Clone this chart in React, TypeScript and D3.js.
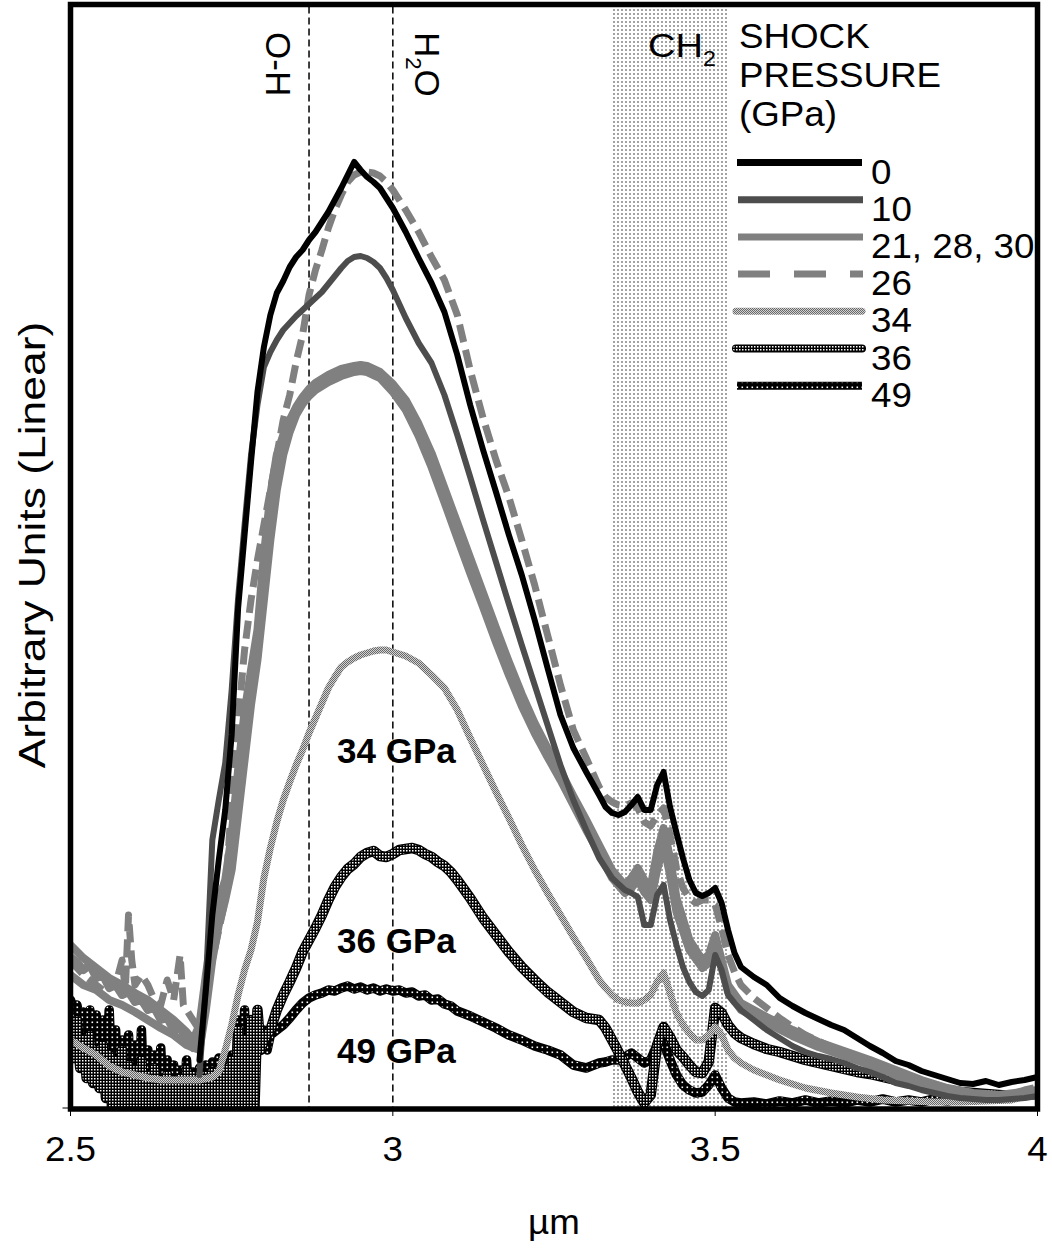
import React, { useEffect, useRef } from "react";
import * as d3 from "d3";

type Pt = [number, number];

// x axis, wavelength in µm
const xDomain = [2.5, 4];
const xTicks = [2.5, 3, 3.5, 4];
const xTickLabels = ["2.5", "3", "3.5", "4"];

// marker lines and CH2 band (µm)
const markerOH = 2.87;
const markerH2O = 3.0;
const ch2Band = [3.34, 3.52];

// intensity, arbitrary units
const yMax = 1103;

const legendLabels = ["0", "10", "21, 28, 30", "26", "34", "36", "49"];
const curveLabels = ["34 GPa", "36 GPa", "49 GPa"];

const gpa0: Pt[] = [
  [2.70, 48], [2.71, 118], [2.72, 193], [2.73, 248], [2.74, 298], [2.75, 373], [2.76, 500], [2.77, 573],
  [2.78, 646], [2.79, 716], [2.80, 761], [2.81, 793], [2.82, 815], [2.83, 827], [2.84, 841], [2.85, 851],
  [2.86, 858], [2.87, 868], [2.88, 876], [2.89, 886], [2.90, 896], [2.91, 908], [2.92, 920], [2.93, 933],
  [2.94, 946], [2.95, 938], [2.96, 931], [2.97, 926], [2.98, 920], [2.99, 910], [3.00, 900], [3.02, 876],
  [3.04, 850], [3.06, 825], [3.08, 796], [3.10, 753], [3.12, 703], [3.14, 658], [3.16, 616], [3.18, 573],
  [3.20, 533], [3.22, 488], [3.24, 440], [3.26, 393], [3.28, 360], [3.30, 336], [3.32, 313], [3.33, 301],
  [3.34, 295], [3.35, 293], [3.36, 296], [3.37, 303], [3.38, 311], [3.39, 298], [3.40, 298], [3.41, 323],
  [3.42, 336], [3.43, 301], [3.44, 275], [3.45, 250], [3.46, 228], [3.47, 215], [3.48, 212], [3.49, 215],
  [3.50, 220], [3.51, 205], [3.52, 178], [3.53, 155], [3.54, 141], [3.56, 131], [3.58, 123], [3.60, 110],
  [3.62, 102], [3.64, 95], [3.66, 89], [3.68, 83], [3.70, 78], [3.72, 70], [3.74, 62], [3.76, 55],
  [3.78, 47], [3.80, 43], [3.82, 37], [3.84, 33], [3.86, 29], [3.88, 25], [3.90, 24], [3.92, 27],
  [3.94, 23], [3.96, 26], [3.98, 28], [4.00, 31],
];

const gpa10: Pt[] = [
  [2.70, 33], [2.71, 123], [2.72, 268], [2.73, 308], [2.74, 345], [2.75, 418], [2.76, 510], [2.77, 583],
  [2.78, 653], [2.79, 703], [2.80, 741], [2.81, 756], [2.82, 768], [2.83, 778], [2.84, 785], [2.85, 792],
  [2.86, 798], [2.87, 804], [2.88, 810], [2.89, 816], [2.90, 824], [2.91, 832], [2.92, 840], [2.93, 847],
  [2.94, 851], [2.95, 852], [2.96, 850], [2.97, 846], [2.98, 840], [2.99, 830], [3.00, 818], [3.02, 790],
  [3.04, 765], [3.06, 745], [3.08, 713], [3.10, 673], [3.12, 631], [3.14, 588], [3.16, 546], [3.18, 504],
  [3.20, 463], [3.22, 423], [3.24, 383], [3.26, 343], [3.28, 308], [3.30, 278], [3.32, 250], [3.33, 240],
  [3.34, 230], [3.35, 224], [3.36, 218], [3.37, 215], [3.38, 211], [3.39, 183], [3.40, 183], [3.41, 213],
  [3.42, 223], [3.43, 188], [3.44, 163], [3.45, 141], [3.46, 126], [3.47, 116], [3.48, 112], [3.49, 118],
  [3.50, 153], [3.51, 138], [3.52, 113], [3.53, 105], [3.54, 98], [3.56, 88], [3.58, 78], [3.60, 70],
  [3.62, 62], [3.64, 56], [3.66, 52], [3.68, 49], [3.70, 45], [3.72, 40], [3.74, 36], [3.76, 31],
  [3.78, 25], [3.80, 22], [3.82, 18], [3.84, 15], [3.86, 12], [3.88, 10], [3.90, 9], [3.92, 8],
  [3.94, 8], [3.96, 9], [3.98, 10], [4.00, 12],
];

const gpa21: Pt[] = [
  [2.50, 133], [2.52, 123], [2.54, 118], [2.56, 108], [2.58, 103], [2.60, 96], [2.62, 88], [2.64, 80],
  [2.66, 73], [2.68, 63], [2.70, 58], [2.71, 98], [2.72, 148], [2.73, 183], [2.74, 208], [2.75, 238],
  [2.76, 293], [2.77, 348], [2.78, 403], [2.79, 448], [2.80, 508], [2.81, 568], [2.82, 618], [2.83, 653],
  [2.84, 676], [2.85, 693], [2.86, 704], [2.87, 712], [2.88, 718], [2.90, 726], [2.92, 732], [2.94, 736],
  [2.95, 737], [2.96, 736], [2.98, 730], [3.00, 716], [3.02, 698], [3.04, 672], [3.06, 641], [3.08, 606],
  [3.10, 570], [3.12, 535], [3.14, 501], [3.16, 466], [3.18, 433], [3.20, 402], [3.22, 375], [3.24, 351],
  [3.26, 328], [3.28, 303], [3.30, 278], [3.32, 255], [3.34, 230], [3.36, 215], [3.37, 220], [3.38, 228],
  [3.39, 216], [3.40, 208], [3.41, 238], [3.42, 263], [3.43, 233], [3.44, 196], [3.46, 158], [3.48, 140],
  [3.49, 145], [3.50, 163], [3.51, 140], [3.52, 116], [3.54, 98], [3.58, 85], [3.62, 72], [3.66, 61],
  [3.70, 52], [3.74, 43], [3.78, 33], [3.82, 23], [3.86, 16], [3.90, 12], [3.94, 10], [4.00, 14],
];

const gpa28: Pt[] = [
  [2.50, 151], [2.51, 146], [2.52, 138], [2.53, 143], [2.54, 130], [2.55, 133], [2.56, 120], [2.57, 123],
  [2.58, 113], [2.59, 116], [2.60, 106], [2.61, 108], [2.62, 98], [2.63, 100], [2.64, 88], [2.65, 90],
  [2.66, 78], [2.67, 80], [2.68, 68], [2.69, 60], [2.70, 68], [2.71, 118], [2.72, 163], [2.73, 193],
  [2.74, 213], [2.75, 256], [2.76, 318], [2.77, 378], [2.78, 418], [2.79, 453], [2.80, 533], [2.81, 598],
  [2.82, 643], [2.83, 665], [2.84, 682], [2.85, 696], [2.86, 707], [2.87, 715], [2.88, 721], [2.89, 726],
  [2.90, 729], [2.91, 732], [2.92, 735], [2.93, 737], [2.94, 739], [2.95, 740], [2.96, 739], [2.97, 736],
  [2.98, 733], [2.99, 728], [3.00, 720], [3.02, 703], [3.04, 678], [3.06, 648], [3.08, 613], [3.10, 578],
  [3.12, 543], [3.14, 508], [3.16, 473], [3.18, 440], [3.20, 408], [3.22, 380], [3.24, 356], [3.26, 333],
  [3.28, 308], [3.30, 283], [3.32, 258], [3.33, 246], [3.34, 233], [3.35, 223], [3.36, 218], [3.37, 225],
  [3.38, 235], [3.39, 223], [3.40, 215], [3.41, 248], [3.42, 273], [3.43, 243], [3.44, 203], [3.45, 183],
  [3.46, 163], [3.47, 150], [3.48, 143], [3.49, 148], [3.50, 168], [3.51, 143], [3.52, 118], [3.53, 108],
  [3.54, 101], [3.56, 95], [3.58, 88], [3.60, 81], [3.62, 75], [3.64, 68], [3.66, 63], [3.68, 59],
  [3.70, 54], [3.72, 50], [3.74, 46], [3.76, 40], [3.78, 35], [3.80, 30], [3.82, 25], [3.84, 21],
  [3.86, 17], [3.88, 15], [3.90, 13], [3.92, 11], [3.94, 11], [3.96, 12], [3.98, 14], [4.00, 16],
];

const gpa30: Pt[] = [
  [2.50, 163], [2.52, 150], [2.54, 140], [2.56, 130], [2.58, 123], [2.60, 115], [2.62, 108], [2.64, 98],
  [2.66, 88], [2.68, 76], [2.69, 68], [2.70, 83], [2.71, 133], [2.72, 178], [2.73, 208], [2.74, 228],
  [2.75, 273], [2.76, 338], [2.77, 396], [2.78, 438], [2.79, 478], [2.80, 553], [2.81, 613], [2.82, 653],
  [2.83, 673], [2.84, 688], [2.85, 701], [2.86, 711], [2.87, 719], [2.88, 725], [2.90, 733], [2.92, 739],
  [2.94, 742], [2.95, 743], [2.96, 742], [2.98, 736], [3.00, 724], [3.02, 708], [3.04, 684], [3.06, 655],
  [3.08, 620], [3.10, 585], [3.12, 550], [3.14, 515], [3.16, 480], [3.18, 446], [3.20, 414], [3.22, 385],
  [3.24, 360], [3.26, 337], [3.28, 312], [3.30, 288], [3.32, 263], [3.34, 238], [3.36, 223], [3.37, 230],
  [3.38, 240], [3.39, 228], [3.40, 221], [3.41, 256], [3.42, 280], [3.43, 250], [3.44, 210], [3.46, 168],
  [3.48, 148], [3.49, 153], [3.50, 173], [3.51, 148], [3.52, 123], [3.54, 105], [3.58, 91], [3.62, 78],
  [3.66, 66], [3.70, 57], [3.74, 48], [3.78, 38], [3.82, 28], [3.86, 20], [3.90, 15], [3.94, 13], [4.00, 18],
];

const gpa26: Pt[] = [
  [2.50, 148], [2.51, 140], [2.52, 133], [2.53, 128], [2.54, 123], [2.55, 118], [2.56, 130], [2.57, 123],
  [2.58, 148], [2.585, 118], [2.59, 193], [2.595, 148], [2.60, 123], [2.61, 133], [2.62, 123], [2.63, 108],
  [2.64, 103], [2.65, 128], [2.66, 108], [2.67, 153], [2.675, 103], [2.68, 98], [2.69, 88], [2.70, 78],
  [2.71, 108], [2.72, 148], [2.73, 178], [2.74, 208], [2.75, 308], [2.76, 388], [2.77, 458], [2.78, 508],
  [2.79, 548], [2.80, 583], [2.81, 618], [2.82, 653], [2.83, 688], [2.84, 713], [2.85, 746], [2.86, 773],
  [2.87, 813], [2.88, 838], [2.89, 858], [2.90, 880], [2.91, 898], [2.92, 913], [2.93, 926], [2.94, 933],
  [2.95, 936], [2.96, 936], [2.97, 935], [2.98, 932], [2.99, 926], [3.00, 918], [3.02, 898], [3.04, 876],
  [3.06, 851], [3.08, 828], [3.10, 793], [3.12, 738], [3.14, 690], [3.16, 648], [3.18, 611], [3.20, 568],
  [3.22, 523], [3.24, 473], [3.26, 423], [3.28, 378], [3.30, 350], [3.32, 321], [3.33, 311], [3.34, 306],
  [3.35, 303], [3.36, 302], [3.37, 305], [3.38, 300], [3.39, 286], [3.40, 282], [3.41, 293], [3.42, 300],
  [3.43, 273], [3.44, 240], [3.45, 220], [3.46, 210], [3.47, 205], [3.48, 208], [3.49, 208], [3.50, 203],
  [3.51, 180], [3.52, 153], [3.53, 136], [3.54, 123], [3.56, 110], [3.58, 100], [3.60, 90], [3.62, 81],
  [3.64, 73], [3.66, 67], [3.68, 61], [3.70, 55], [3.72, 48], [3.74, 42], [3.76, 36], [3.78, 31],
  [3.80, 26], [3.82, 22], [3.84, 18], [3.86, 15], [3.88, 13], [3.90, 11], [3.92, 11], [3.94, 12],
  [3.96, 14], [3.98, 18], [4.00, 21],
];

const gpa34: Pt[] = [
  [2.50, 68], [2.52, 60], [2.54, 53], [2.56, 42], [2.58, 36], [2.60, 33], [2.62, 30], [2.64, 28],
  [2.66, 28], [2.68, 28], [2.70, 28], [2.72, 31], [2.73, 36], [2.74, 58], [2.75, 83], [2.76, 113],
  [2.77, 138], [2.78, 158], [2.79, 186], [2.80, 230], [2.81, 260], [2.82, 286], [2.83, 308], [2.84, 326],
  [2.85, 343], [2.86, 358], [2.87, 375], [2.88, 390], [2.89, 405], [2.90, 420], [2.91, 431], [2.92, 441],
  [2.93, 446], [2.94, 450], [2.95, 453], [2.96, 455], [2.97, 457], [2.98, 458], [2.99, 458], [3.00, 456],
  [3.02, 452], [3.04, 445], [3.06, 433], [3.08, 420], [3.10, 398], [3.12, 370], [3.14, 343], [3.16, 316],
  [3.18, 290], [3.20, 263], [3.22, 238], [3.24, 215], [3.26, 193], [3.28, 171], [3.30, 150], [3.32, 128],
  [3.33, 120], [3.34, 113], [3.35, 108], [3.36, 106], [3.37, 105], [3.38, 105], [3.39, 108], [3.40, 113],
  [3.41, 126], [3.42, 135], [3.43, 115], [3.44, 95], [3.45, 83], [3.46, 75], [3.47, 68], [3.48, 68],
  [3.49, 73], [3.50, 81], [3.51, 73], [3.52, 58], [3.53, 50], [3.54, 45], [3.56, 38], [3.58, 33],
  [3.60, 28], [3.64, 20], [3.68, 15], [3.72, 11], [3.76, 8], [3.80, 7], [3.84, 6], [3.88, 6],
  [3.92, 7], [3.96, 8], [4.00, 16],
];

const gpa36: Pt[] = [
  [2.500, 78], [2.505, 50], [2.510, 88], [2.515, 40], [2.520, 68], [2.525, 30], [2.530, 73], [2.535, 25],
  [2.540, 58], [2.545, 20], [2.550, 63], [2.555, 10], [2.560, 53], [2.565, -7], [2.570, 48], [2.575, -7],
  [2.580, 58], [2.585, -7], [2.590, 43], [2.595, -7], [2.600, 38], [2.605, -7], [2.610, 48], [2.615, -7],
  [2.620, 33], [2.625, -7], [2.630, 40], [2.635, -7], [2.640, 28], [2.645, -7], [2.650, 33], [2.655, -7],
  [2.660, 23], [2.665, -7], [2.670, 30], [2.675, -7], [2.680, 38], [2.685, -7], [2.690, 33], [2.695, -7],
  [2.700, 28], [2.705, -7], [2.710, 33], [2.715, -7], [2.720, 36], [2.725, -7], [2.730, 38], [2.735, -7],
  [2.740, 40], [2.745, -7], [2.750, 48], [2.755, -7], [2.760, 78], [2.765, -7], [2.770, 68], [2.775, -7],
  [2.780, 88], [2.785, -7], [2.790, 98], [2.795, 58], [2.800, 68], [2.805, 73], [2.81, 78], [2.82, 98],
  [2.83, 113], [2.84, 126], [2.85, 140], [2.86, 156], [2.87, 168], [2.88, 180], [2.89, 193], [2.90, 208],
  [2.91, 221], [2.92, 231], [2.93, 239], [2.94, 244], [2.95, 251], [2.96, 255], [2.97, 257], [2.98, 252],
  [2.99, 251], [3.00, 254], [3.01, 258], [3.02, 259], [3.03, 260], [3.04, 258], [3.05, 254], [3.06, 251],
  [3.07, 246], [3.08, 242], [3.09, 236], [3.10, 228], [3.12, 210], [3.14, 190], [3.16, 173], [3.18, 156],
  [3.20, 141], [3.22, 128], [3.24, 116], [3.26, 106], [3.28, 96], [3.30, 90], [3.32, 88], [3.33, 80],
  [3.34, 68], [3.35, 56], [3.36, 43], [3.37, 30], [3.38, 16], [3.39, 5], [3.40, 13], [3.41, 63],
  [3.42, 81], [3.43, 71], [3.44, 58], [3.45, 51], [3.46, 43], [3.47, 36], [3.48, 35], [3.49, 46],
  [3.50, 100], [3.51, 95], [3.52, 83], [3.53, 75], [3.54, 70], [3.56, 64], [3.58, 59], [3.60, 56],
  [3.62, 52], [3.64, 48], [3.66, 45], [3.68, 42], [3.70, 39], [3.72, 36], [3.74, 34], [3.76, 31],
  [3.78, 28], [3.80, 26], [3.82, 23], [3.84, 20], [3.86, 18], [3.88, 16], [3.90, 15], [3.92, 14],
  [3.94, 13], [3.96, 12], [3.98, 13], [4.00, 14],
];

const gpa49: Pt[] = [
  [2.500, 108], [2.505, 98], [2.510, 103], [2.515, 83], [2.520, 96], [2.525, 73], [2.530, 98], [2.535, 63],
  [2.540, 93], [2.545, 48], [2.550, 88], [2.555, 33], [2.560, 98], [2.565, 18], [2.570, 78], [2.575, -7],
  [2.580, 68], [2.585, -7], [2.590, 73], [2.595, -7], [2.600, 63], [2.605, -7], [2.610, 78], [2.615, -7],
  [2.620, 58], [2.625, -2], [2.630, 53], [2.635, -7], [2.640, 60], [2.645, -7], [2.650, 48], [2.655, -7],
  [2.660, 43], [2.665, -7], [2.670, 38], [2.675, -7], [2.680, 48], [2.685, -7], [2.690, 36], [2.695, -7],
  [2.700, 40], [2.705, -7], [2.710, 43], [2.715, -7], [2.720, 46], [2.725, -7], [2.730, 50], [2.735, -7],
  [2.740, 45], [2.745, -7], [2.750, 53], [2.755, -7], [2.760, 88], [2.765, -7], [2.770, 98], [2.775, -7],
  [2.780, 63], [2.785, 48], [2.790, 68], [2.795, 75], [2.800, 78], [2.805, 58], [2.81, 73], [2.82, 78],
  [2.83, 83], [2.84, 90], [2.85, 98], [2.86, 105], [2.87, 110], [2.88, 113], [2.89, 115], [2.90, 118],
  [2.91, 117], [2.92, 120], [2.93, 122], [2.94, 119], [2.95, 121], [2.96, 118], [2.97, 120], [2.98, 117],
  [2.99, 119], [3.00, 117], [3.01, 118], [3.02, 115], [3.03, 116], [3.04, 112], [3.05, 113], [3.06, 108],
  [3.07, 109], [3.08, 104], [3.09, 102], [3.10, 97], [3.12, 92], [3.14, 86], [3.16, 80], [3.18, 73],
  [3.20, 68], [3.22, 62], [3.24, 58], [3.26, 53], [3.28, 43], [3.30, 40], [3.32, 45], [3.33, 46],
  [3.34, 48], [3.35, 48], [3.36, 51], [3.37, 55], [3.38, 50], [3.39, 45], [3.40, 48], [3.41, 63],
  [3.42, 65], [3.43, 48], [3.44, 33], [3.45, 23], [3.46, 18], [3.47, 15], [3.48, 16], [3.49, 23],
  [3.50, 33], [3.51, 20], [3.52, 10], [3.53, 6], [3.54, 5], [3.56, 6], [3.58, 4], [3.60, 7],
  [3.62, 5], [3.64, 8], [3.66, 5], [3.68, 7], [3.70, 5], [3.72, 8], [3.74, 6], [3.76, 9],
  [3.78, 6], [3.80, 8], [3.82, 6], [3.84, 9], [3.86, 7], [3.88, 10], [3.90, 8], [3.92, 11],
  [3.94, 9], [3.96, 12], [3.98, 13], [4.00, 15],
];

const FONT = "'Liberation Sans', Arial, Helvetica, sans-serif";

function App() {
  const svgRef = useRef<SVGSVGElement>(null);
  const width = 1052;
  const height = 1249;

  useEffect(() => {
    const svg = d3.select(svgRef.current);
    svg.selectAll("*").remove();

    const plot = { left: 70.5, right: 1037.5, top: 4.5, bottom: 1108 };

    const x = d3.scaleLinear().domain(xDomain).range([plot.left, plot.right]);
    const y = d3
      .scaleLinear()
      .domain([0, yMax])
      .range([plot.bottom, plot.bottom - yMax]);

    const defs = svg.append("defs");

    // helper for small tiled patterns
    const pattern = (id: string, size: number, bg: string, cells: number[][], fg: string) => {
      const p = defs
        .append("pattern")
        .attr("id", id)
        .attr("patternUnits", "userSpaceOnUse")
        .attr("width", size)
        .attr("height", size);
      p.append("rect").attr("width", size).attr("height", size).attr("fill", bg);
      cells.forEach(([cx, cy, cw]) =>
        p
          .append("rect")
          .attr("x", cx)
          .attr("y", cy)
          .attr("width", cw)
          .attr("height", cw)
          .attr("fill", fg)
      );
    };

    pattern("band", 4, "#fff", [[1, 1, 2]], "#a3a3a3"); // CH2 dot screen
    pattern("p34", 2, "#d2d2d2", [[0, 0, 1], [1, 1, 1]], "#686868");
    pattern("p36", 3, "#000", [[1, 1, 1.5]], "#fff");
    pattern("p49", 5, "#000", [[1.5, 1.5, 1.6]], "#fff");

    defs
      .append("clipPath")
      .attr("id", "plotClip")
      .append("rect")
      .attr("x", plot.left)
      .attr("y", plot.top)
      .attr("width", plot.right - plot.left)
      .attr("height", plot.bottom - plot.top);

    // CH2 band
    svg
      .append("rect")
      .attr("x", x(ch2Band[0]))
      .attr("y", plot.top)
      .attr("width", x(ch2Band[1]) - x(ch2Band[0]))
      .attr("height", plot.bottom - plot.top)
      .attr("fill", "url(#band)");

    // dashed marker lines
    [markerOH, markerH2O].forEach((m) => {
      svg
        .append("line")
        .attr("x1", x(m))
        .attr("x2", x(m))
        .attr("y1", plot.top + 2)
        .attr("y2", plot.bottom)
        .attr("stroke", "#000")
        .attr("stroke-width", 1.5)
        .attr("stroke-dasharray", "7,4");
    });

    const line = d3
      .line<Pt>()
      .x((d) => x(d[0]))
      .y((d) => y(d[1]));

    // drawn back to front; outline = solid black edge under a pattern stroke
    const series = [
      { data: gpa49, stroke: "url(#p49)", w: 7.5, dash: null, outline: 9.5 },
      { data: gpa36, stroke: "url(#p36)", w: 8, dash: null, outline: 10.5 },
      { data: gpa34, stroke: "url(#p34)", w: 7, dash: null, outline: 0 },
      { data: gpa30, stroke: "#808080", w: 8, dash: null, outline: 0 },
      { data: gpa28, stroke: "#808080", w: 8, dash: null, outline: 0 },
      { data: gpa21, stroke: "#808080", w: 8, dash: null, outline: 0 },
      { data: gpa26, stroke: "#808080", w: 7, dash: "18,8", outline: 0 },
      { data: gpa10, stroke: "#4d4d4d", w: 6, dash: null, outline: 0 },
      { data: gpa0, stroke: "#000", w: 6, dash: null, outline: 0 },
    ];

    const curves = svg.append("g").attr("clip-path", "url(#plotClip)");
    series.forEach((s) => {
      if (s.outline) {
        curves
          .append("path")
          .attr("d", line(s.data))
          .attr("fill", "none")
          .attr("stroke", "#000")
          .attr("stroke-width", s.outline)
          .attr("stroke-linejoin", "round")
          .attr("stroke-linecap", "round");
      }
      curves
        .append("path")
        .attr("d", line(s.data))
        .attr("fill", "none")
        .attr("stroke", s.stroke)
        .attr("stroke-width", s.w)
        .attr("stroke-linejoin", "round")
        .attr("stroke-linecap", s.dash ? "butt" : "round")
        .attr("stroke-dasharray", s.dash);
    });

    // frame
    svg
      .append("rect")
      .attr("x", plot.left)
      .attr("y", plot.top)
      .attr("width", plot.right - plot.left)
      .attr("height", plot.bottom - plot.top + 1)
      .attr("fill", "none")
      .attr("stroke", "#000")
      .attr("stroke-width", 5.5);

    // ticks
    xTicks.forEach((t) => {
      svg
        .append("line")
        .attr("x1", x(t))
        .attr("x2", x(t))
        .attr("y1", plot.bottom + 3)
        .attr("y2", plot.bottom + 8)
        .attr("stroke", "#000")
        .attr("stroke-width", 1);
    });
    svg
      .append("line")
      .attr("x1", plot.left - 8)
      .attr("x2", plot.left)
      .attr("y1", y(0))
      .attr("y2", y(0))
      .attr("stroke", "#000")
      .attr("stroke-width", 1);

    const addText = (
      tx: number,
      ty: number,
      str: string,
      size: number,
      anchor = "start",
      extra = "",
      stretch = 1.05
    ) =>
      svg
        .append("text")
        .attr("transform", `translate(${tx},${ty}) ${extra} scale(${stretch},1)`)
        .attr("text-anchor", anchor)
        .style("font-family", FONT)
        .style("font-size", `${size}px`)
        .text(str);

    xTickLabels.forEach((lab, i) => addText(x(xTicks[i]), 1161, lab, 35, "middle"));
    addText((plot.left + plot.right) / 2, 1234, "µm", 35, "middle");
    addText(45, 545, "Arbitrary Units (Linear)", 37, "middle", "rotate(-90)", 1.2);

    // marker labels, rotated
    svg
      .append("text")
      .attr("transform", `translate(266,32) rotate(90)`)
      .style("font-family", FONT)
      .style("font-size", "35px")
      .text("O-H");
    const h2o = svg
      .append("text")
      .attr("transform", `translate(415,32) rotate(90)`)
      .style("font-family", FONT)
      .style("font-size", "35px");
    h2o.append("tspan").text("H");
    h2o.append("tspan").attr("dy", 9).style("font-size", "22px").text("2");
    h2o.append("tspan").attr("dy", -9).text("O");

    addText(648, 57, "CH", 34, "start", "", 1.12);
    addText(703, 66, "2", 22);

    // legend
    addText(739, 48, "SHOCK", 35);
    addText(739, 87, "PRESSURE", 35);
    addText(739, 126, "(GPa)", 35);

    const legendStyles = [
      { stroke: "#000", x1: 737, x2: 862, dash: null, cap: "butt", outline: false },
      { stroke: "#4d4d4d", x1: 738, x2: 863, dash: null, cap: "butt", outline: false },
      { stroke: "#808080", x1: 738, x2: 863, dash: null, cap: "butt", outline: false },
      { stroke: "#808080", x1: 738, x2: 863, dash: "32,24", cap: "butt", outline: false },
      { stroke: "url(#p34)", x1: 736, x2: 862, dash: null, cap: "round", outline: false },
      { stroke: "url(#p36)", x1: 736, x2: 862, dash: null, cap: "round", outline: true },
      { stroke: "url(#p49)", x1: 737, x2: 862, dash: null, cap: "butt", outline: true },
    ];
    legendLabels.forEach((lab, i) => {
      const ly = 162.5 + i * 37.2;
      const st = legendStyles[i];
      if (st.outline) {
        svg
          .append("line")
          .attr("x1", st.x1)
          .attr("x2", st.x2)
          .attr("y1", ly)
          .attr("y2", ly)
          .attr("stroke", "#000")
          .attr("stroke-width", 8)
          .attr("stroke-linecap", st.cap);
      }
      svg
        .append("line")
        .attr("x1", st.x1)
        .attr("x2", st.x2)
        .attr("y1", ly)
        .attr("y2", ly)
        .attr("stroke", st.stroke)
        .attr("stroke-width", st.outline ? 6 : 7)
        .attr("stroke-linecap", st.cap)
        .attr("stroke-dasharray", st.dash);
      addText(871, ly + 21, lab, 35);
    });

    // curve labels
    [763, 953, 1063].forEach((by, i) => {
      svg
        .append("text")
        .attr("x", 337)
        .attr("y", by)
        .style("font-family", FONT)
        .style("font-size", "35px")
        .style("font-weight", "bold")
        .text(curveLabels[i]);
    });
  }, []);

  return (
    <svg
      ref={svgRef}
      width={width}
      height={height}
      style={{ position: "absolute", left: 0, top: 0, background: "#fff" }}
    ></svg>
  );
}

export default App;
